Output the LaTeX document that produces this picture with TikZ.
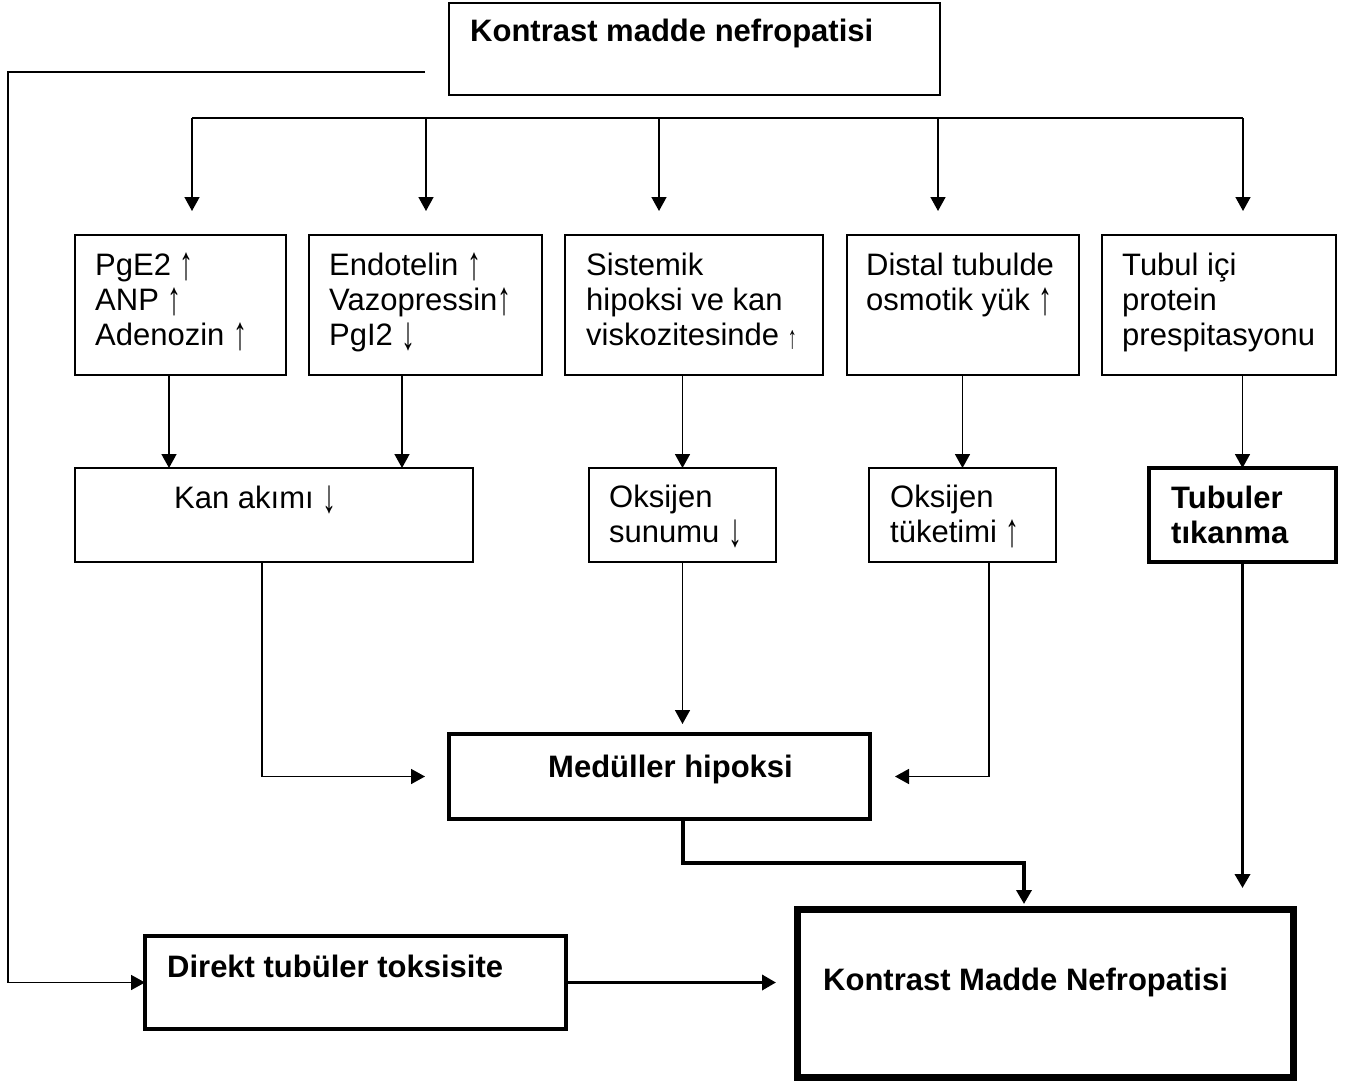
\documentclass[tikz,border=0pt]{standalone}
\usepackage{fontspec}
\usepackage{graphicx}
\setmainfont{Liberation Sans}
\usetikzlibrary{arrows.meta}
\newcommand\myup{\raisebox{-6pt}{\resizebox{14pt}{28pt}{\raisebox{\depth}{↑}}}}
\newcommand\mydown{\raisebox{-6pt}{\resizebox{14pt}{28pt}{\raisebox{\depth}{↓}}}}
\newcommand\mysmallup{\raisebox{-4pt}{\resizebox{9pt}{19pt}{\raisebox{\depth}{↑}}}}
\begin{document}
\begin{tikzpicture}[x=1pt,y=-1pt,
  txt/.style={anchor=base west, inner sep=0pt, align=left, font=\fontsize{31}{35}\selectfont},
  btxt/.style={anchor=base west, inner sep=0pt, align=left, font=\fontsize{31}{35}\selectfont\bfseries},
  thinbox/.style={draw, line width=1.8pt, inner sep=0pt, outer sep=0pt, anchor=north west},
  thickbox/.style={draw, line width=3.5pt, inner sep=0pt, outer sep=0pt, anchor=north west},
  heavybox/.style={draw, line width=7pt, inner sep=0pt, outer sep=0pt, anchor=north west},
  arr/.style={line width=1.6pt, -{Triangle[length=14pt,width=15pt]}},
  thk/.style={line width=3.5pt, -{Triangle[length=14pt,width=15pt]}},
  ln/.style={line width=1.6pt}
]
\useasboundingbox (0,0) rectangle (1353,1081);

% boxes
\node[thinbox, minimum width=491pt, minimum height=92pt] (top) at (449,3) {};
\node[thinbox, minimum width=211pt, minimum height=140pt] (b1) at (75,235) {};
\node[thinbox, minimum width=233pt, minimum height=140pt] (b2) at (309,235) {};
\node[thinbox, minimum width=258pt, minimum height=140pt] (b3) at (565,235) {};
\node[thinbox, minimum width=232pt, minimum height=140pt] (b4) at (847,235) {};
\node[thinbox, minimum width=234pt, minimum height=140pt] (b5) at (1102,235) {};
\node[thinbox, minimum width=398pt, minimum height=94pt] (kan) at (75,468) {};
\node[thinbox, minimum width=187pt, minimum height=94pt] (sun) at (589,468) {};
\node[thinbox, minimum width=187pt, minimum height=94pt] (tuk) at (869,468) {};
\node[thickbox, minimum width=187pt, minimum height=94pt] (tub) at (1149,468) {};
\node[thickbox, minimum width=421pt, minimum height=85pt] (med) at (449,734) {};
\node[thickbox, minimum width=421pt, minimum height=93pt] (dir) at (145,936) {};
\node[heavybox, minimum width=496pt, minimum height=168pt] (kmn) at (797,909) {};

% texts (base anchor = baseline of last line)
\node[btxt] (ttop) at (470,42) {Kontrast madde nefropatisi};
\node[txt] (t1) at (95,345) {PgE2 \myup\\ANP \myup\\Adenozin \myup};
\node[txt] (t2) at (329,345) {Endotelin \myup\\Vazopressin\myup\\PgI2 \mydown};
\node[txt] (t3) at (586,345) {Sistemik\\hipoksi ve kan\\viskozitesinde \mysmallup};
\node[txt] (t4) at (866,310) {Distal tubulde\\osmotik yük \myup};
\node[txt] (t5) at (1122,345) {Tubul içi\\protein\\prespitasyonu};
\node[txt] (tk) at (174,508) {Kan akımı \mydown};
\node[txt] (ts) at (609,542) {Oksijen\\sunumu \mydown};
\node[txt] (tt) at (890,542) {Oksijen\\tüketimi \myup};
\node[btxt] (tb) at (1171,543) {Tubuler\\tıkanma};
\node[btxt] (tm) at (548,777) {Medüller hipoksi};
\node[btxt] (td) at (167,977) {Direkt tubüler toksisite};
\node[btxt] (tn) at (823,990) {Kontrast Madde Nefropatisi};

% helper coordinates
\coordinate (c0) at (425,72);
\coordinate (c0b) at (8,72);
\coordinate (k1) at (192,118);
\coordinate (k2) at (426,118);
\coordinate (k3) at (659,118);
\coordinate (k4) at (938,118);
\coordinate (k5) at (1243,118);
\coordinate (x1) at (169,0);
\coordinate (x2) at (402,0);
\coordinate (x3) at (262,0);
\coordinate (x4) at (989,0);
\coordinate (m1) at (683,863);
\coordinate (m2) at (1024,863);

% left long connector
\draw[arr] (c0) -- (c0b) |- (dir.west);

% bus
\draw[ln] (k1) -- (k5);
\draw[arr, shorten >=24pt] (k1) -- (k1 |- b1.north);
\draw[arr, shorten >=24pt] (k2) -- (k2 |- b2.north);
\draw[arr, shorten >=24pt] (k3) -- (k3 |- b3.north);
\draw[arr, shorten >=24pt] (k4) -- (k4 |- b4.north);
\draw[arr, shorten >=24pt] (k5) -- (k5 |- b5.north);

% row1 -> row2
\draw[arr] (b1.south -| x1) -- (kan.north -| x1);
\draw[arr] (b2.south -| x2) -- (kan.north -| x2);
\draw[arr] (b3.south -| sun.north) -- (sun.north);
\draw[arr] (b4.south -| tuk.north) -- (tuk.north);
\draw[arr] (b5.south -| tub.north) -- (tub.north);

% row2 -> medullar
\draw[arr, shorten >=24pt] (kan.south -| x3) |- (med.west);
\draw[arr, shorten >=10pt] (sun.south) -- (med.north -| sun.south);
\draw[arr, shorten >=25pt] (tuk.south -| x4) |- (med.east);

% to final
\draw[thk, shorten >=5pt] (med.south -| m1) -- (m1) -- (m2) -- (kmn.north -| m2);
\draw[thk, shorten >=21pt] (tub.south) -- (kmn.north -| tub.south);
\draw[thk, shorten >=21pt] (dir.east) -- (kmn.west |- dir.east);
\end{tikzpicture}
\end{document}
